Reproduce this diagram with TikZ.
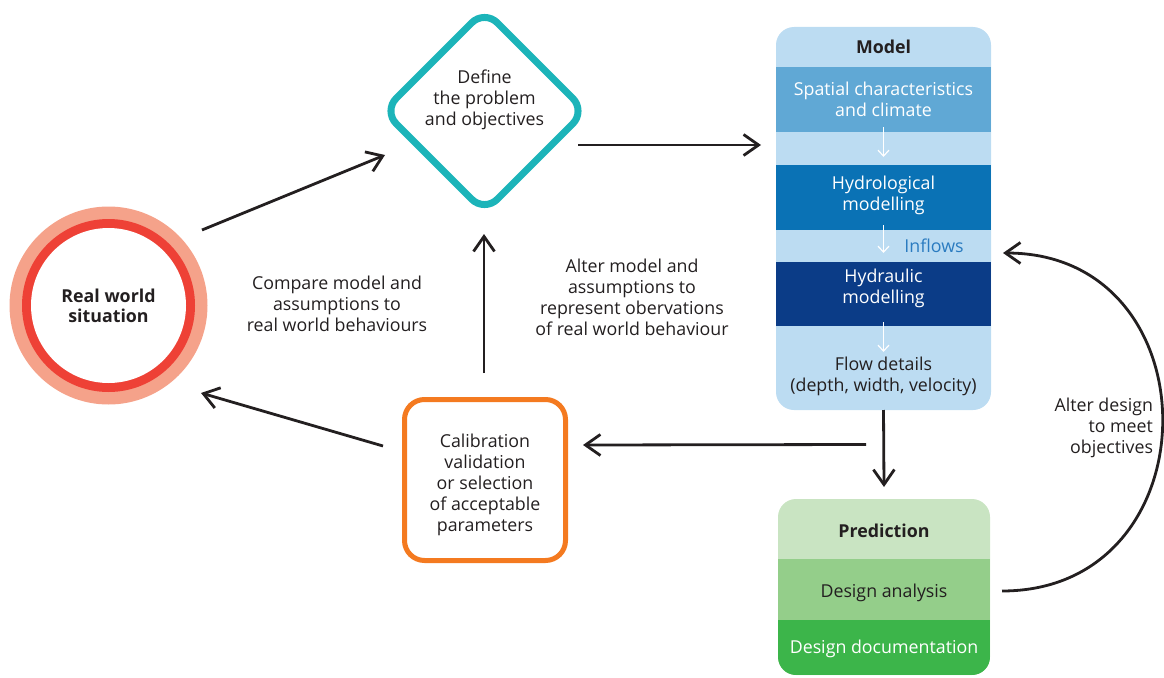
\documentclass[tikz,border=0pt]{standalone}
\usepackage{fontspec}
\setmainfont{Open Sans}
\usetikzlibrary{arrows.meta,shapes.geometric,calc}
\definecolor{txt}{HTML}{231F20}
\definecolor{modelbg}{HTML}{BCDCF2}
\definecolor{spatialc}{HTML}{60A8D5}
\definecolor{hydroc}{HTML}{0A72B5}
\definecolor{hydrauc}{HTML}{0B3C87}
\definecolor{inflowc}{HTML}{2A7BC0}
\definecolor{predhead}{HTML}{C9E4C2}
\definecolor{danac}{HTML}{94CE8A}
\definecolor{ddocc}{HTML}{3CB54A}
\definecolor{tealc}{HTML}{1CB4B9}
\definecolor{orangec}{HTML}{F47A20}
\definecolor{salmonc}{HTML}{F5A28A}
\definecolor{rwred}{HTML}{EE4136}
\begin{document}
\begin{tikzpicture}[x=1pt,y=-1pt,
  every node/.style={font=\fontsize{17.8}{21}\selectfont, text=txt, inner sep=0pt, outer sep=0pt},
  lbl/.style={align=center},
  wlbl/.style={align=center, text=white},
  boldlbl/.style={font=\fontsize{17.8}{21}\selectfont\bfseries},
  arr/.style={draw=txt, line width=2.8pt, -{Straight Barb[length=15pt,width=21pt]}},
  warr/.style={draw=white, line width=1.2pt, -{Straight Barb[length=6pt,width=11pt]}},
  band/.style={rectangle, minimum width=215pt},
  pband/.style={rectangle, minimum width=212pt},
]
\useasboundingbox (0,0) rectangle (1164,677);

% real world circle
\node[circle, minimum size=198pt, fill=salmonc,
  path picture={\fill[rwred] (path picture bounding box.center) circle[radius=86.5pt];
                \fill[white] (path picture bounding box.center) circle[radius=77.5pt];},
  align=center, font=\fontsize{17.8}{20}\selectfont\bfseries] (rw) at (108.5,305.5) {Real world\\situation};

% define diamond
\node[diamond, aspect=1, minimum width=202pt, minimum height=202pt, draw=tealc, line width=7pt, rounded corners=18pt] (def) at (484.5,111) {};
\node[lbl] (deft) at (484.5,100) {Define\\the problem\\and objectives};

% calibration box
\node[rectangle, draw=orangec, line width=5pt, rounded corners=20pt, minimum width=161pt, minimum height=161pt] (cal) at (485,480) {};
\node[lbl] (calt) at (485,485) {Calibration\\validation\\or selection\\of acceptable\\parameters};

% model
\node[rectangle, fill=modelbg, rounded corners=18pt, minimum width=215pt, minimum height=383pt] (model) at (883.5,218.5) {};
\node[boldlbl] (modelt) at (883.5,47) {Model};
\node[band, fill=spatialc, minimum height=65pt] (spatial) at (883.5,99.5) {};
\node[wlbl] (spatialt) at (883.5,99.5) {Spatial characteristics\\and climate};
\node[band, fill=hydroc, minimum height=65pt] (hydro) at (883.5,197.5) {};
\node[wlbl] (hydrot) at (883.5,195) {Hydrological\\modelling};
\node[band, fill=hydrauc, minimum height=64pt] (hydrau) at (883.5,294) {};
\node[wlbl] (hydraut) at (883.5,288.5) {Hydraulic\\modelling};
\node[lbl] (flow) at (883.5,376) {Flow details\\(depth, width, velocity)};
\node[text=inflowc] (inflows) at (934,246) {Inflows};
\draw[warr] ($(spatial.south)+(0,-5)$) -- ($(hydro.north)+(0,-8)$);
\draw[warr] ($(hydro.south)+(0,-5)$) -- ($(hydrau.north)+(0,-9)$);
\draw[warr] ($(hydrau.south)+(0,-4)$) -- ($(hydrau.south)+(0,26)$);

% prediction
\node[rectangle, fill=predhead, rounded corners=18pt, minimum width=212pt, minimum height=176pt] (pred) at (884,587) {};
\begin{scope}
  \clip[rounded corners=18pt] (pred.north west) rectangle (pred.south east);
  \node[pband, fill=danac, minimum height=61pt] (dana) at (884,589.5) {};
  \node[pband, fill=ddocc, minimum height=55pt] (ddoc) at (884,647.5) {};
\end{scope}
\node[lbl] (danat) at (884,592.5) {Design analysis};
\node[wlbl] (ddoct) at (884,648.5) {Design documentation};
\node[boldlbl] (predt) at (884,531) {Prediction};

% labels
\node[lbl] (cmp) at (337,303.5) {Compare model and\\assumptions to\\real world behaviours};
\node[lbl] (alt) at (632,297) {Alter model and\\assumptions to\\represent obervations\\of real world behaviour};
\node[align=right, anchor=east] (altd) at (1153,428) {Alter design\\to meet\\objectives};

% connectors
\draw[arr] ($(rw.center)+(93.5,-75.5)$) -- ($(def.center)+(-99.5,44)$);
\draw[arr] ($(def.center)+(93.5,34)$) -- ($(model.west)+(-15,-73.5)$);
\draw[arr] ($(cal.north)+(-1,-26.5)$) -- ($(def.south)+(-0.5,22)$);
\draw[arr] ($(model.south)+(-17.5,34.5)$) -- ($(cal.east)+(17.5,-35)$);
\draw[arr] ($(cal.west)+(-21.5,-34)$) -- ($(rw.center)+(92.5,87.5)$);
\draw[arr] (model.south) -- ($(pred.north)+(0,-12)$);
\draw[arr] ($(dana.east)+(12,1.5)$) .. controls +(213,0) and +(213,0) .. ($(model.east)+(12,34.5)$);
\end{tikzpicture}
\end{document}
